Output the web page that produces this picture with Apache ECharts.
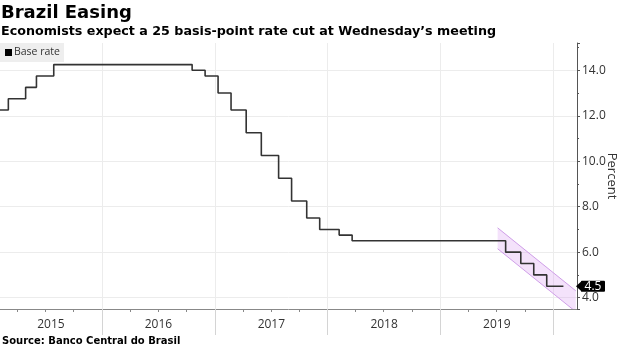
<!DOCTYPE html>
<html>
<head>
<meta charset="utf-8">
<script src="https://cdn.jsdelivr.net/npm/echarts@6/dist/echarts.min.js"></script>
<style>
  html, body { margin: 0; padding: 0; background: #fff; }
  #chart { width: 620px; height: 348px; }
</style>
</head>
<body>
<div id="chart"></div>
<script>
// Selic base rate: each entry is the date a new rate took effect
const rateDates = ['2015-02-05', '2015-03-04', '2015-04-29', '2015-06-03', '2015-07-29',
  '2016-10-19', '2016-11-30', '2017-01-11', '2017-02-22', '2017-04-12', '2017-05-31',
  '2017-07-26', '2017-09-06', '2017-10-25', '2017-12-06', '2018-02-07', '2018-03-21',
  '2019-07-31', '2019-09-18', '2019-10-30', '2019-12-11', '2020-02-03'];
const rateValues = [12.25, 12.75, 13.25, 13.75, 14.25,
  14.00, 13.75, 13.00, 12.25, 11.25, 10.25,
  9.25, 8.25, 7.50, 7.00, 6.75, 6.50,
  6.00, 5.50, 5.00, 4.50, 4.50];

// Highlighted easing channel
const bandDates = ['2019-07-05', '2020-03-14'];
const bandUpper = [7.07, 4.30];
const bandLower = [6.15, 3.38];

const yearLabels = ['2015', '2016', '2017', '2018', '2019'];
const xMin = '2015-02-05';
const xMax = '2020-03-18';
const yMin = 3.5;
const yMax = 15.2;

const ts = d => Date.parse(d + 'T00:00:00Z');
const tMin = ts(xMin);
const tMax = ts(xMax);
const yearStarts = yearLabels.map(y => ts(y + '-01-01'));
yearStarts.push(ts((+yearLabels[yearLabels.length - 1] + 1) + '-01-01'));
const yearBounds = yearStarts.filter(t => t > tMin && t < tMax);
// each label sits in the middle of the visible part of its year
const yearCenters = yearLabels.map((y, i) => {
  const a = Math.max(yearStarts[i], tMin);
  const b = Math.min(yearStarts[i + 1], tMax);
  return (a + b) / 2;
});
const quarterTicks = [];
for (let y = 2015; y <= 2020; y++) {
  for (let m = 0; m < 12; m += 3) {
    const t = Date.UTC(y, m, 1);
    if (t > tMin && t < tMax) quarterTicks.push(t);
  }
}

const FONT = '"DejaVu Sans", Verdana, sans-serif';
const AXFONT = '"Open Sans", "Noto Sans", sans-serif';

const chart = echarts.init(document.getElementById('chart'), null, { renderer: 'canvas' });

chart.setOption({
  animation: false,
  backgroundColor: '#fff',
  title: [
    { text: 'Brazil Easing', left: 1, top: 4, padding: 0,
      textStyle: { fontFamily: FONT, fontSize: 18, fontWeight: 'bold', color: '#000' } },
    { text: 'Economists expect a 25 basis-point rate cut at Wednesday\u2019s meeting', left: 1, top: 25, padding: 0,
      textStyle: { fontFamily: FONT, fontSize: 12.7, fontWeight: 'bold', color: '#000' } },
    { text: 'Source: Banco Central do Brasil', left: 2, top: 336, padding: 0,
      textStyle: { fontFamily: FONT, fontSize: 10, fontWeight: 'bold', color: '#000' } }
  ],
  legend: {
    left: 0, top: 43,
    backgroundColor: '#eeeeee',
    padding: [4, 4, 4, 5],
    itemWidth: 7, itemHeight: 7, icon: 'rect',
    data: [{ name: 'Base rate', itemStyle: { color: '#000' } }],
    textStyle: { fontFamily: AXFONT, fontSize: 10.5, color: '#333', padding: [0, 0, 0, -3] }
  },
  grid: { left: 0, right: 43, top: 43, bottom: 39, containLabel: false, outerBoundsMode: 'none' },
  xAxis: [
    {
      type: 'value', min: tMin, max: tMax,
      axisLine: { show: true, onZero: false, lineStyle: { color: '#888', width: 1 } },
      axisTick: { show: true, customValues: quarterTicks, length: 3, lineStyle: { color: '#888' } },
      axisLabel: { show: false },
      splitLine: { show: false }
    },
    {
      type: 'value', min: tMin, max: tMax, position: 'bottom',
      axisLine: { show: false, onZero: false },
      axisTick: { show: true, customValues: yearBounds, length: 26, lineStyle: { color: '#d4d4d4' } },
      axisLabel: {
        show: true, customValues: yearCenters, margin: 10,
        formatter: v => String(new Date(v).getUTCFullYear()),
        fontFamily: AXFONT, fontSize: 12, color: '#333'
      },
      splitLine: { show: true, lineStyle: { color: '#ececec', width: 1 } }
    }
  ],
  yAxis: {
    type: 'value', position: 'right', min: yMin, max: yMax,
    name: 'Percent', nameLocation: 'middle', nameRotate: -90, nameGap: 28,
    nameMoveOverlap: false,
    nameTextStyle: { fontFamily: AXFONT, fontSize: 13, color: '#333' },
    axisLine: { show: true, lineStyle: { color: '#555' } },
    axisTick: { show: true, length: 3, lineStyle: { color: '#555' } },
    minorTick: { show: true, splitNumber: 2, length: 2, lineStyle: { color: '#555' } },
    axisLabel: {
      margin: 5, fontFamily: AXFONT, fontSize: 12, color: '#333',
      showMinLabel: false, showMaxLabel: false,
      formatter: v => v.toFixed(1)
    },
    splitLine: { show: true, showMinLine: false, showMaxLine: false, lineStyle: { color: '#ececec' } }
  },
  series: [
    {
      name: 'Easing channel',
      type: 'custom',
      xAxisIndex: 0,
      clip: true,
      z: 1,
      data: bandDates.map((d, i) => [ts(d), bandUpper[i], bandLower[i]]),
      renderItem: (params, api) => {
        if (params.dataIndex !== 0) return null;
        const up = bandDates.map((d, i) => api.coord([ts(d), bandUpper[i]]));
        const lo = bandDates.map((d, i) => api.coord([ts(d), bandLower[i]]));
        return {
          type: 'group',
          children: [
            { type: 'polygon', shape: { points: up.concat(lo.slice().reverse()) },
              style: { fill: 'rgba(214, 150, 240, 0.28)' } },
            { type: 'polyline', shape: { points: up }, style: { stroke: '#cf9ee8', lineWidth: 1, fill: null } },
            { type: 'polyline', shape: { points: lo }, style: { stroke: '#cf9ee8', lineWidth: 1, fill: null } }
          ]
        };
      }
    },
    {
      name: 'Base rate',
      type: 'line',
      xAxisIndex: 0,
      step: 'end',
      showSymbol: false,
      z: 3,
      lineStyle: { color: '#333', width: 1.6 },
      itemStyle: { color: '#000' },
      data: rateDates.map((d, i) => [ts(d), rateValues[i]])
    },
    {
      name: 'Latest',
      type: 'custom',
      xAxisIndex: 0,
      clip: false,
      z: 5,
      data: [[ts(rateDates[rateDates.length - 1]), rateValues[rateValues.length - 1]]],
      renderItem: (params, api) => {
        const cs = params.coordSys;
        const y = api.coord([api.value(0), api.value(1)])[1];
        const x0 = cs.x + cs.width;
        return {
          type: 'group',
          children: [
            { type: 'polygon', shape: { points: [[x0 - 1, y], [x0 + 5, y - 5.5], [x0 + 5, y + 5.5]] },
              style: { fill: '#000' } },
            { type: 'rect', shape: { x: x0 + 4, y: y - 5.5, width: 24, height: 11, r: 1 },
              style: { fill: '#000' } },
            { type: 'text', style: { text: api.value(1).toFixed(1), x: x0 + 16, y: y + 0.5,
              align: 'center', verticalAlign: 'middle', fill: '#fff', font: '12px ' + AXFONT } }
          ]
        };
      }
    }
  ]
});
</script>
</body>
</html>
